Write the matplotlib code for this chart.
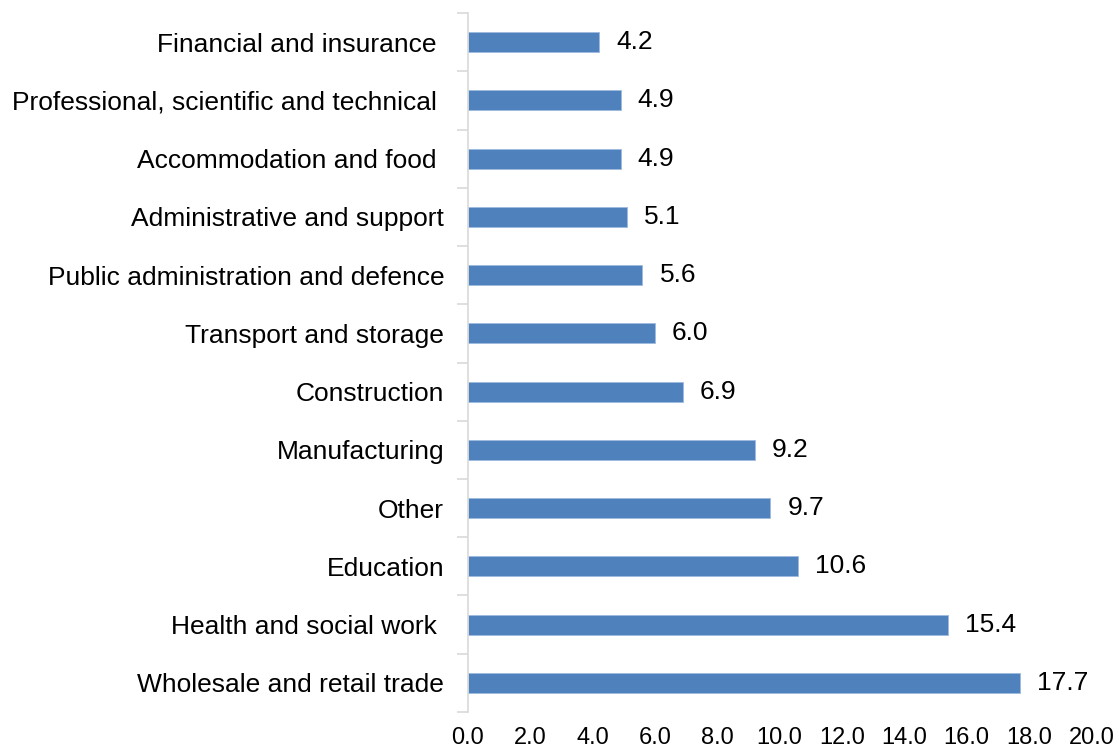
import matplotlib
matplotlib.use("Agg")
import matplotlib.pyplot as plt
import numpy as np

categories = [
    "Wholesale and retail trade",
    "Health and social work ",
    "Education",
    "Other",
    "Manufacturing",
    "Construction",
    "Transport and storage",
    "Public administration and defence",
    "Administrative and support",
    "Accommodation and food ",
    "Professional, scientific and technical ",
    "Financial and insurance ",
]
values = [17.7, 15.4, 10.6, 9.7, 9.2, 6.9, 6.0, 5.6, 5.1, 4.9, 4.9, 4.2]
xticks = [0, 2, 4, 6, 8, 10, 12, 14, 16, 18, 20]

plt.rcParams['font.family'] = ['Liberation Sans', 'DejaVu Sans']

fig = plt.figure(figsize=(11.19, 7.52), dpi=100)
ax = fig.add_axes([0.418, 0.0532, 0.9754 - 0.418, 0.9827 - 0.0532])

y = np.arange(len(categories))
ax.barh(y, values, height=0.34, color="#4F81BD", edgecolor="#9dbbe0", linewidth=0.6)

for yi, v in zip(y, values):
    ax.text(v + 0.55, yi, f"{v:.1f}", va="center", ha="left", fontsize=19, color="#000000")

ax.set_xlim(0, 20)
ax.set_ylim(-0.5, len(categories) - 0.5)
ax.set_xticks(xticks)
ax.set_xticklabels([f"{t:.1f}" for t in xticks], fontsize=17)
ax.set_yticks(y)
ax.set_yticklabels(categories, fontsize=19)
ax.set_yticks(np.arange(-0.5, len(categories), 1.0), minor=True)

ax.tick_params(axis="x", length=0, pad=11)
ax.tick_params(axis="y", which="major", length=0, pad=17)
ax.tick_params(axis="y", which="minor", length=8, color="#d9d9d9", width=1.2)

for s in ["top", "right", "bottom"]:
    ax.spines[s].set_visible(False)
ax.spines["left"].set_color("#d9d9d9")
ax.spines["left"].set_linewidth(1.2)

fig.savefig("out.png", dpi=100)
